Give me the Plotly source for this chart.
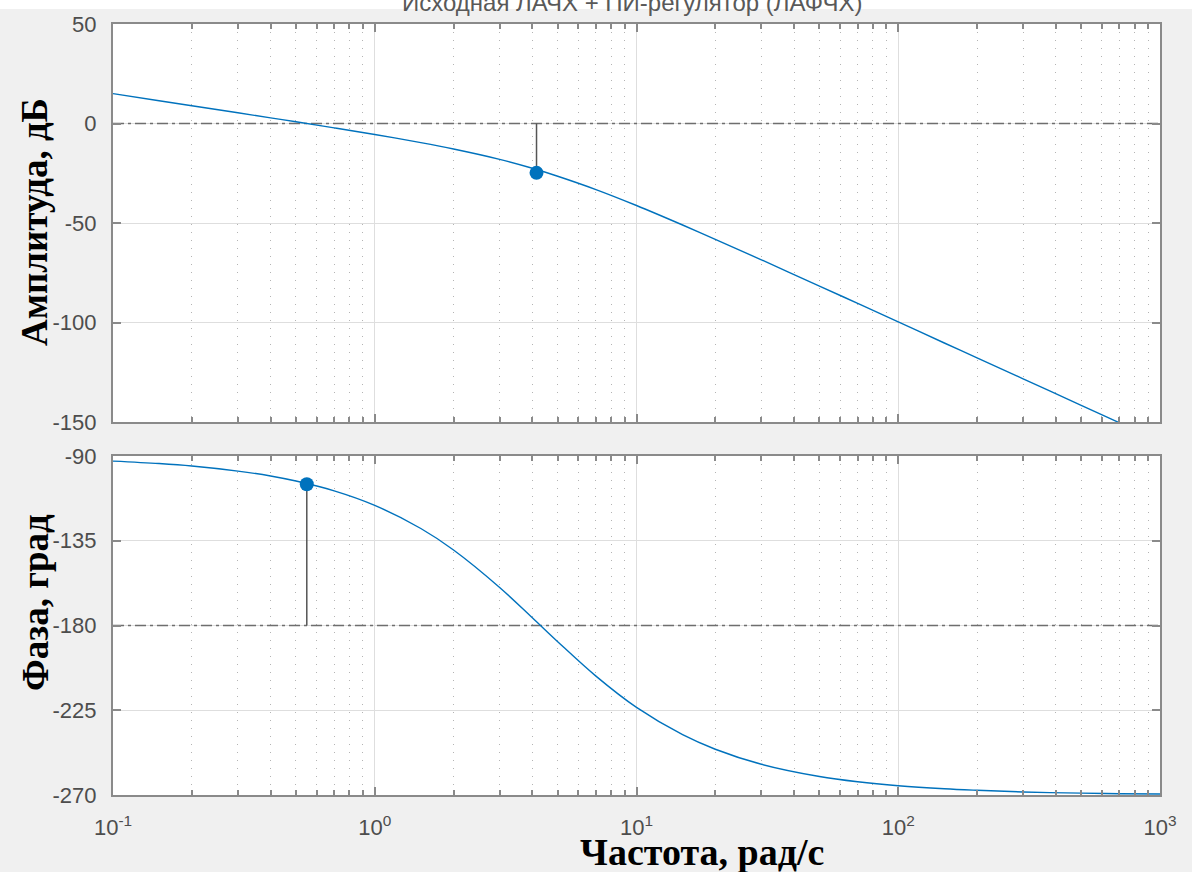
import plotly.graph_objects as go
from plotly.subplots import make_subplots

# ---- data ----
freq = [0.1, 0.15, 0.2, 0.3, 0.4, 0.5, 0.7, 1, 1.5, 2, 3, 4, 5, 7, 10, 15, 20, 30,
        50, 70, 100, 150, 200, 300, 500, 700, 1000]
mag_db = [15.0, 11.4, 8.9, 5.4, 2.8, 0.9, -2.2, -5.5, -9.6, -12.8, -18.0, -22.5, -26.5,
          -33.2, -41.2, -51.0, -58.2, -68.5, -81.7, -90.4, -99.7, -110.3, -117.8,
          -128.3, -141.6, -150.4, -159.7]
phase_deg = [-92.7, -94.0, -95.3, -98.0, -100.6, -103.3, -108.5, -116.2, -128.5, -139.9,
             -159.8, -175.9, -188.6, -206.9, -223.5, -238.0, -245.7, -253.7, -260.2,
             -263.0, -265.1, -266.7, -267.5, -268.4, -269.0, -269.3, -269.5]

gm_freq = 4.15
gm_mag = -24.8
gm_ref = 0
pm_freq = 0.55
pm_phase = -105
pm_ref = -180

x_tick_vals = [0.1, 1, 10, 100, 1000]
x_tick_text = ["10<sup>-1</sup>", "10<sup>0</sup>", "10<sup>1</sup>", "10<sup>2</sup>", "10<sup>3</sup>"]
mag_ticks = [50, 0, -50, -100, -150]
mag_tick_text = ["50", "0", "-50", "-100", "-150"]
phase_ticks = [-90, -135, -180, -225, -270]
phase_tick_text = ["-90", "-135", "-180", "-225", "-270"]

title_text = "Исходная ЛАЧХ + ПИ-регулятор (ЛАФЧХ)"
x_title = "Частота, рад/с"
mag_title = "Амплитуда, дБ"
phase_title = "Фаза, град"

# ---- style ----
BLUE = "#0072BD"
REF = "#6e6e6e"
STEM = "#555555"
FRAME = "#8a8a8a"
GRID = "#dedede"
MINOR = "#b4b4b4"
TICKFONT = dict(family="Arial, Liberation Sans, sans-serif", size=22, color="#4d4d4d")
SERIF = "Liberation Serif, Times New Roman, serif"

W, H = 1192, 872
ML, MR, MT, MB = 113, 32, 24, 77
PH = H - MT - MB
PW = W - ML - MR

def py(pix):
    return (H - MB - pix) / PH

def px(pix):
    return (pix - ML) / PW

minor_vals = [m * 10 ** e for e in range(-1, 3) for m in range(2, 10)]

fig = make_subplots(rows=2, cols=1, shared_xaxes=False, vertical_spacing=0.0)

xr = [0.1, 1000]
DASHDOT = "11px,4px,3px,4px"
fig.add_trace(go.Scatter(x=xr, y=[gm_ref, gm_ref], mode="lines",
                         line=dict(color=REF, width=1.5, dash=DASHDOT),
                         hoverinfo="skip"), row=1, col=1)
fig.add_trace(go.Scatter(x=xr, y=[pm_ref, pm_ref], mode="lines",
                         line=dict(color=REF, width=1.5, dash=DASHDOT),
                         hoverinfo="skip"), row=2, col=1)
fig.add_trace(go.Scatter(x=freq, y=mag_db, mode="lines",
                         line=dict(color=BLUE, width=1.4, shape="spline")), row=1, col=1)
fig.add_trace(go.Scatter(x=freq, y=phase_deg, mode="lines",
                         line=dict(color=BLUE, width=1.4, shape="spline")), row=2, col=1)
fig.add_trace(go.Scatter(x=[gm_freq, gm_freq], y=[gm_ref, gm_mag], mode="lines",
                         line=dict(color=STEM, width=1.5)), row=1, col=1)
fig.add_trace(go.Scatter(x=[pm_freq, pm_freq], y=[pm_ref, pm_phase], mode="lines",
                         line=dict(color=STEM, width=1.5)), row=2, col=1)
fig.add_trace(go.Scatter(x=[gm_freq], y=[gm_mag], mode="markers",
                         marker=dict(color=BLUE, size=14, line=dict(width=0))), row=1, col=1)
fig.add_trace(go.Scatter(x=[pm_freq], y=[pm_phase], mode="markers",
                         marker=dict(color=BLUE, size=14, line=dict(width=0))), row=2, col=1)

common_x = dict(type="log", range=[-1, 3], tickvals=x_tick_vals, ticktext=x_tick_text,
                ticks="inside", ticklen=8, tickcolor=FRAME, tickwidth=1.5,
                showline=True, linecolor=FRAME, linewidth=2, mirror="allticks",
                showgrid=True, gridcolor=GRID, gridwidth=1, zeroline=False,
                minor=dict(tickvals=minor_vals, ticks="inside", ticklen=5, tickcolor=FRAME,
                           showgrid=True, gridcolor=MINOR, griddash="1px,7px", gridwidth=1),
                tickfont=TICKFONT, ticklabelstandoff=12)
fig.update_xaxes(**common_x)
fig.update_xaxes(showticklabels=False, row=1, col=1)

common_y = dict(ticks="inside", ticklen=8, tickcolor=FRAME, tickwidth=1.5,
                showline=True, linecolor=FRAME, linewidth=2, mirror="allticks",
                showgrid=True, gridcolor=GRID, gridwidth=1, zeroline=False,
                tickfont=TICKFONT, ticklabelstandoff=10)
fig.update_yaxes(**common_y)
fig.update_yaxes(range=[-150, 50], tickvals=mag_ticks, ticktext=mag_tick_text, row=1, col=1)
fig.update_yaxes(range=[-270, -90], tickvals=phase_ticks, ticktext=phase_tick_text, row=2, col=1)

fig.update_layout(
    width=W, height=H, showlegend=False,
    margin=dict(l=ML, r=MR, t=MT, b=MB),
    paper_bgcolor="#f0f0f0", plot_bgcolor="#ffffff",
    xaxis=dict(domain=[0, 1]), xaxis2=dict(domain=[0, 1]),
    yaxis=dict(domain=[py(422), 1]), yaxis2=dict(domain=[0, py(456)]),
    shapes=[dict(type="rect", xref="paper", yref="paper", x0=-0.2, x1=1.2,
                 y0=py(9), y1=py(-5), fillcolor="#ffffff", line=dict(width=0), layer="below")],
)

fig.add_annotation(text=title_text, xref="paper", yref="paper", x=px(632), y=py(18),
                   xanchor="center", yanchor="bottom", showarrow=False,
                   font=dict(family="Arial, Liberation Sans, sans-serif", size=24, color="#595959"))
fig.add_annotation(text="<b>" + x_title + "</b>", xref="paper", yref="paper",
                   x=px(702), y=py(852), xanchor="center", yanchor="middle",
                   showarrow=False, font=dict(family=SERIF, size=38, color="#000000"))
fig.add_annotation(text="<b>" + mag_title + "</b>",
                   xref="paper", yref="paper",
                   x=px(35), y=py(222), xanchor="center", yanchor="middle",
                   textangle=-90, showarrow=False, font=dict(family=SERIF, size=37, color="#000000"))
fig.add_annotation(text="<b>" + phase_title + "</b>",
                   xref="paper", yref="paper",
                   x=px(35), y=py(603), xanchor="center", yanchor="middle",
                   textangle=-90, showarrow=False, font=dict(family=SERIF, size=37, color="#000000"))

fig.write_html("out.html")
